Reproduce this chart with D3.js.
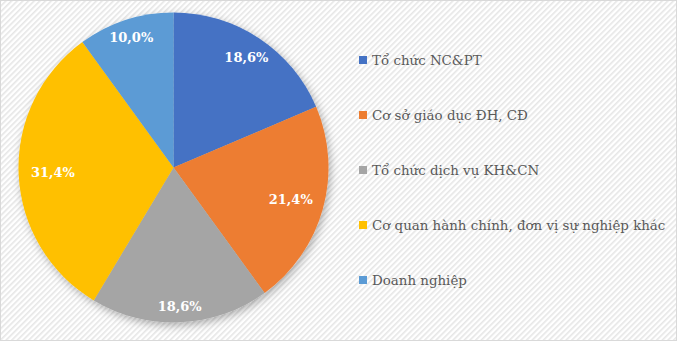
<!DOCTYPE html>
<html>
<head>
<meta charset="utf-8">
<script src="https://cdn.jsdelivr.net/npm/d3@7"></script>
<style>
  html, body { margin: 0; padding: 0; background: #fff; }
  svg { display: block; }
</style>
</head>
<body>
<svg id="chart" width="677" height="341"></svg>
<script>
// Share of organisations by type (%)
const categories = [
  "Tổ chức NC&PT",
  "Cơ sở giáo dục ĐH, CĐ",
  "Tổ chức dịch vụ KH&CN",
  "Cơ quan hành chính, đơn vị sự nghiệp khác",
  "Doanh nghiệp"
];
const values = [18.6, 21.4, 18.6, 31.4, 10.0];
const colors = ["#4472C4", "#ED7D31", "#A5A5A5", "#FFC000", "#5B9BD5"];

const W = 677, H = 341;
const svg = d3.select("#chart");
const defs = svg.append("defs");

// hatched backdrop
const pat = defs.append("pattern")
  .attr("id", "hatch").attr("patternUnits", "userSpaceOnUse")
  .attr("width", 4).attr("height", 4)
  .attr("patternTransform", "rotate(45)");
pat.append("rect").attr("width", 4).attr("height", 4).attr("fill", "#ffffff");
pat.append("rect").attr("x", 0).attr("width", 1.6).attr("height", 4).attr("fill", "#e6e6e6");

const shadow = defs.append("filter").attr("id", "shadow")
  .attr("x", "-20%").attr("y", "-20%").attr("width", "140%").attr("height", "140%");
shadow.append("feDropShadow")
  .attr("dx", 2).attr("dy", 3).attr("stdDeviation", 4)
  .attr("flood-color", "#000").attr("flood-opacity", 0.3);

svg.append("rect").attr("x", 0.5).attr("y", 0.5)
  .attr("width", W - 1).attr("height", H - 1)
  .attr("fill", "url(#hatch)").attr("stroke", "#d9d9d9");

// pie
const cx = 173.5, cy = 167.5, R = 155;
const pie = d3.pie().sort(null).value(d => d);
const arcs = pie(values);
const arc = d3.arc().innerRadius(0).outerRadius(R);

const g = svg.append("g").attr("transform", `translate(${cx},${cy})`);
g.append("g").attr("filter", "url(#shadow)")
  .selectAll("path").data(arcs).join("path")
  .attr("d", arc)
  .attr("fill", (d, i) => colors[i]);

// value labels placed near the inside edge of each slice
const fmt = v => v.toFixed(1).replace(".", ",") + "%";
const labels = g.selectAll("text.val").data(arcs).join("text")
  .attr("class", "val")
  .attr("text-anchor", "middle")
  .attr("dominant-baseline", "central")
  .attr("font-family", "DejaVu Serif")
  .attr("font-weight", "bold")
  .attr("font-size", 13)
  .attr("fill", "#ffffff")
  .text(d => fmt(d.data));
labels.each(function (d) {
  const bb = this.getBBox();
  const a = (d.startAngle + d.endAngle) / 2;
  const hw = bb.width / 2 + 12, hh = bb.height / 2 + 8;
  const inset = Math.hypot(hw * Math.sin(a), hh * Math.cos(a));
  const r = R - inset;
  d3.select(this)
    .attr("x", r * Math.sin(a))
    .attr("y", -r * Math.cos(a));
});

// legend
const legend = svg.append("g").attr("transform", "translate(359,60)");
const rowH = 55;
const items = legend.selectAll("g").data(categories).join("g")
  .attr("transform", (d, i) => `translate(0,${i * rowH})`);
items.append("rect")
  .attr("x", 0).attr("y", -4).attr("width", 8).attr("height", 8)
  .attr("fill", (d, i) => colors[i]);
items.append("text")
  .attr("x", 13).attr("y", 5)
  .attr("font-family", "DejaVu Serif")
  .attr("font-size", 13.4)
  .attr("fill", "#595959")
  .text(d => d);
</script>
</body>
</html>
